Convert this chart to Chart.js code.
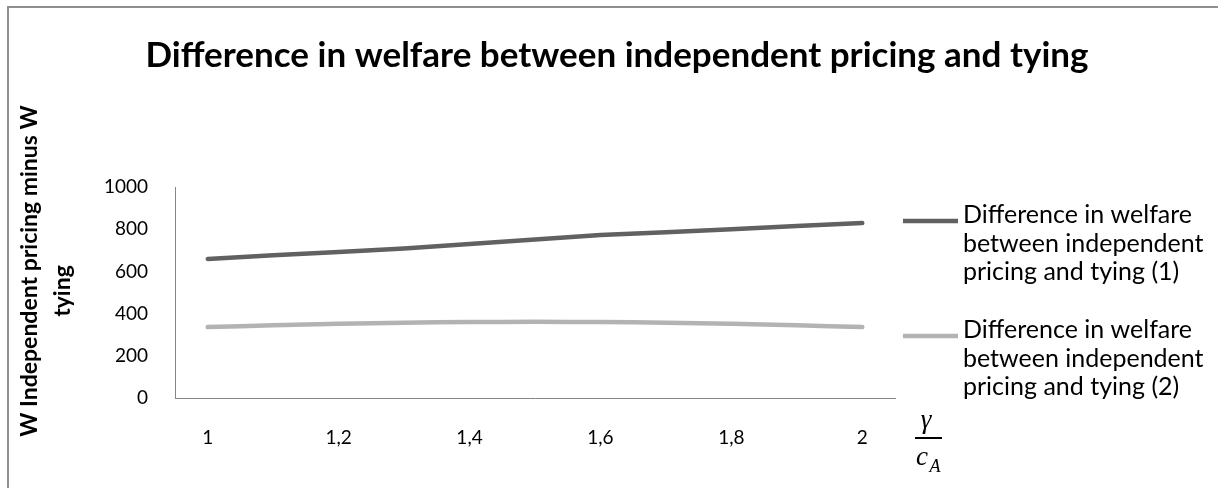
<!DOCTYPE html>
<html>
<head>
<meta charset="utf-8">
<script src="https://cdn.jsdelivr.net/npm/chart.js@4.4.0/dist/chart.umd.min.js"></script>
<style>
  html, body { margin: 0; padding: 0; background: #fff; overflow: hidden; }
  canvas { display: block; }
</style>
</head>
<body>
<canvas id="myChart" width="1218" height="488"></canvas>
<script>
// gamma / c_A ratios on the x axis
const ratios = ["1", "1,1", "1,2", "1,3", "1,4", "1,5", "1,6", "1,7", "1,8", "1,9", "2"];
const welfareDiff1 = [659, 676, 692, 709, 730, 751, 772, 786, 800, 815, 829];
const welfareDiff2 = [336, 345, 352, 357, 360, 361, 360, 357, 352, 345, 336];
const seriesNames = [
  "Difference in welfare between independent pricing and tying (1)",
  "Difference in welfare between independent pricing and tying (2)"
];
const legendLines = [
  ["Difference in welfare", "between independent", "pricing and tying (1)"],
  ["Difference in welfare", "between independent", "pricing and tying (2)"]
];
const seriesColors = ["#616161", "#b3b3b3"];
const chartTitle = "Difference in welfare between independent pricing and tying";
const yTitle = ["W Independent pricing minus W", "tying"];

const sansFont = "Lato, 'Open Sans', sans-serif";

const decor = {
  id: "decor",
  beforeDraw(chart) {
    const ctx = chart.ctx;
    ctx.save();
    ctx.fillStyle = "#fff";
    ctx.fillRect(0, 0, chart.width, chart.height);
    // frame of the original chart object (only top and left visible)
    ctx.strokeStyle = "#8f8f8f";
    ctx.lineWidth = 2;
    ctx.beginPath();
    ctx.moveTo(8, chart.height);
    ctx.lineTo(8, 7);
    ctx.lineTo(chart.width, 7);
    ctx.stroke();
    ctx.restore();
  },
  afterDraw(chart) {
    const ctx = chart.ctx;
    ctx.save();
    ctx.fillStyle = "#000";

    // main title
    ctx.font = "bold 35px " + sansFont;
    ctx.textAlign = "center";
    ctx.textBaseline = "middle";
    ctx.fillText(chartTitle, 617, 56);

    // y axis title, rotated
    ctx.font = "bold 23px " + sansFont;
    const titlePos = [[30, 271], [63, 291]];
    yTitle.forEach((line, i) => {
      ctx.save();
      ctx.translate(titlePos[i][0], titlePos[i][1]);
      ctx.rotate(-Math.PI / 2);
      ctx.fillText(line, 0, 0);
      ctx.restore();
    });

    // legend
    const legendTop = [215, 330];
    ctx.font = "25px " + sansFont;
    ctx.textAlign = "left";
    legendLines.forEach((lines, i) => {
      ctx.strokeStyle = seriesColors[i];
      ctx.lineWidth = 4.5;
      ctx.lineCap = "butt";
      ctx.beginPath();
      ctx.moveTo(903, legendTop[i] + 6);
      ctx.lineTo(958, legendTop[i] + 6);
      ctx.stroke();
      lines.forEach((t, j) => {
        ctx.fillText(t, 963, legendTop[i] + j * 28.5);
      });
    });

    // x axis title: gamma over c_A
    ctx.font = "italic 27px 'Liberation Serif', serif";
    ctx.textAlign = "center";
    ctx.fillText("\u03b3", 926, 421);
    ctx.fillRect(915, 437, 27, 2);
    ctx.fillText("c", 922, 458);
    ctx.font = "italic 18px 'Liberation Serif', serif";
    ctx.fillText("A", 935, 467);
    ctx.restore();
  }
};

const ctx = document.getElementById("myChart");
new Chart(ctx, {
  type: "line",
  data: {
    labels: ratios,
    datasets: [
      {
        label: seriesNames[0],
        data: welfareDiff1,
        borderColor: seriesColors[0],
        borderWidth: 4.5,
        borderCapStyle: "round",
        pointRadius: 0,
        tension: 0
      },
      {
        label: seriesNames[1],
        data: welfareDiff2,
        borderColor: seriesColors[1],
        borderWidth: 4.5,
        borderCapStyle: "round",
        pointRadius: 0,
        tension: 0.3
      }
    ]
  },
  options: {
    responsive: false,
    animation: false,
    devicePixelRatio: 1,
    layout: { padding: { left: 10, top: 187, right: 323, bottom: 0 } },
    plugins: {
      legend: { display: false },
      tooltip: { enabled: false },
      title: { display: false }
    },
    scales: {
      x: {
        offset: true,
        grid: { display: false, drawTicks: false },
        border: { display: true, color: "#868686", width: 1 },
        ticks: {
          autoSkip: false,
          maxRotation: 0,
          color: "#000",
          padding: 28,
          font: { family: sansFont, size: 19 },
          callback: function (val, i) {
            return i % 2 === 0 ? this.getLabelForValue(val) : "";
          }
        },
        afterFit: (s) => { s.height = 90; }
      },
      y: {
        min: 0,
        max: 1000,
        grid: { display: false, drawTicks: false },
        border: { display: true, color: "#868686", width: 1 },
        ticks: {
          stepSize: 200,
          color: "#000",
          padding: 27,
          font: { family: sansFont, size: 19 },
          callback: (v) => String(v)
        },
        afterFit: (s) => { s.width = 165; }
      }
    }
  },
  plugins: [decor]
});
</script>
</body>
</html>
